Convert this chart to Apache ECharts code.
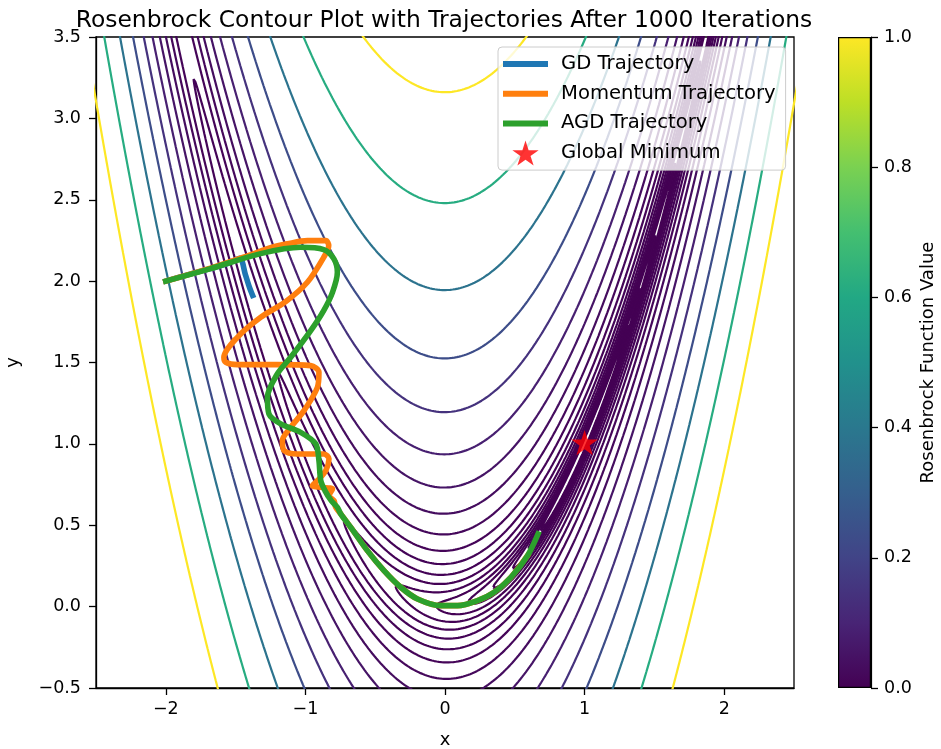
<!DOCTYPE html>
<html><head><meta charset="utf-8">
<script src="https://cdn.jsdelivr.net/npm/echarts@6/dist/echarts.min.js"></script>
<style>html,body{margin:0;padding:0;background:#fff}#c{width:941px;height:749px}</style>
</head><body><div id="c"></div>
<script>
// ---- data ----
const chartTitle = 'Rosenbrock Contour Plot with Trajectories After 1000 Iterations';
// contour levels of f(x,y) = (1-x)^2 + 100(y-x^2)^2 (log spaced 0.1 .. 1000)
const contourLevels = [0.1, 0.1624, 0.2637, 0.4281, 0.6952, 1.129, 1.833, 2.976, 4.833, 7.848,
                       12.74, 20.69, 33.60, 54.56, 88.59, 143.8, 233.6, 379.3, 615.8, 1000];
const xTickValues = [-2, -1, 0, 1, 2];
const gdX = [-2.0, -1.84, -1.68, -1.55, -1.47, -1.43, -1.40, -1.378];
const gdY = [2.0, 2.04, 2.077, 2.11, 2.14, 2.04, 1.96, 1.912];
const momentumX = [-2.0, -1.68, -1.40, -1.25, -1.129, -0.986, -0.854, -0.833, -0.869, -0.986, -1.14, -1.320, -1.487, -1.584, -1.571, -1.487, -1.201, -0.962, -0.903, -0.914, -1.010, -1.105, -1.165, -1.153, -1.057, -0.867, -0.831, -0.854, -0.914, -0.950, -0.890, -0.806, -0.831, -0.795, -0.783, -0.747, -0.675, -0.556, -0.437, -0.317, -0.197, -0.03, 0.09, 0.233, 0.352, 0.472, 0.591];
const momentumY = [2.0, 2.08, 2.16, 2.205, 2.229, 2.249, 2.249, 2.218, 2.146, 1.993, 1.875, 1.778, 1.655, 1.532, 1.501, 1.487, 1.487, 1.481, 1.440, 1.347, 1.204, 1.102, 1.020, 0.959, 0.938, 0.938, 0.908, 0.836, 0.774, 0.743, 0.733, 0.723, 0.682, 0.651, 0.610, 0.570, 0.487, 0.344, 0.221, 0.119, 0.047, 0.006, 0.006, 0.037, 0.088, 0.18, 0.313];
const agdX = [-2.0, -1.679, -1.32, -1.034, -0.869, -0.797, -0.771, -0.806, -0.869, -0.962, -1.105, -1.201, -1.272, -1.261, -1.177, -1.034, -0.926, -0.903, -0.890, -0.86, -0.815, -0.771, -0.747, -0.675, -0.556, -0.437, -0.317, -0.197, -0.03, 0.09, 0.233, 0.352, 0.472, 0.591, 0.667];
const agdY = [2.0, 2.077, 2.169, 2.208, 2.194, 2.138, 2.054, 1.931, 1.819, 1.696, 1.532, 1.430, 1.286, 1.184, 1.123, 1.071, 1.000, 0.897, 0.774, 0.713, 0.651, 0.610, 0.570, 0.487, 0.344, 0.221, 0.119, 0.047, 0.006, 0.006, 0.037, 0.088, 0.18, 0.313, 0.447];
const globalMinimum = [1, 1];
const colorbarMin = 0, colorbarMax = 1;

// ---- styling helpers ----
const FONT = 'DejaVu Sans';
const VIRIDIS = ['#440154','#482475','#414487','#355f8d','#2a788e','#21918c','#22a884','#44bf70','#7ad151','#bddf26','#fde725'];
function hex(h){return [parseInt(h.substr(1,2),16),parseInt(h.substr(3,2),16),parseInt(h.substr(5,2),16)];}
function viridis(v){
  v = Math.max(0, Math.min(1, v));
  const p = v * (VIRIDIS.length - 1), i = Math.min(Math.floor(p), VIRIDIS.length - 2), f = p - i;
  const a = hex(VIRIDIS[i]), b = hex(VIRIDIS[i+1]);
  return 'rgb(' + a.map((c,k)=>Math.round(c + (b[k]-c)*f)).join(',') + ')';
}
function starPath(R){
  const r = R * 0.381966; let d = '';
  for (let k = 0; k < 10; k++) {
    const ang = -Math.PI/2 + k*Math.PI/5, rr = k % 2 ? r : R;
    d += (k ? 'L' : 'M') + (R + rr*Math.cos(ang)).toFixed(3) + ',' + (R + rr*Math.sin(ang)).toFixed(3);
  }
  return 'path://' + d + 'Z';
}
const STAR = starPath(14);
const minus = s => String(s).replace('-', '\u2212');

// ---- contour line geometry for a level c: (1-x)=sqrt(c)cos t, 10(y-x^2)=sqrt(c) sin t ----
const XMIN=-2.5, XMAX=2.5, YMIN=-0.5, YMAX=3.5, PXX=139.6, PXY=162.75;
function contourSegments(c){
  const s = Math.sqrt(c), N = 200000;
  const segs = []; let cur = null, prev = null, firstStartsAt0 = false, lastEndsAtN = false;
  for (let i = 0; i <= N; i++) {
    const t = 2*Math.PI*i/N;
    const x = 1 - s*Math.cos(t);
    const y = x*x + s*Math.sin(t)/10;
    const inside = x >= XMIN-0.15 && x <= XMAX+0.15 && y >= YMIN-0.15 && y <= YMAX+0.15;
    if (inside) {
      if (!cur) { cur = []; if (prev) cur.push(prev); else firstStartsAt0 = true; cur.push([x,y]); }
      else {
        const l = cur[cur.length-1];
        if (Math.hypot((x-l[0])*PXX, (y-l[1])*PXY) >= 0.8 || i === N) cur.push([x,y]);
      }
      if (i === N) lastEndsAtN = true;
    } else if (cur) { cur.push([x,y]); segs.push(cur); cur = null; }
    prev = [x,y];
  }
  if (cur) segs.push(cur);
  if (segs.length > 1 && firstStartsAt0 && lastEndsAtN) {
    const last = segs.pop(); segs[0] = last.concat(segs[0]);
  }
  return segs;
}

const series = [];
contourLevels.forEach((c) => {
  const col = viridis((c - contourLevels[0]) / (contourLevels[contourLevels.length-1] - contourLevels[0]));
  contourSegments(c).forEach(seg => {
    series.push({type:'line', data: seg, showSymbol:false, symbol:'none', silent:true, animation:false,
      clip:true, z:1, lineStyle:{color: col, width: 2.2}, xAxisIndex:0, yAxisIndex:0});
  });
});
const zipXY = (xs, ys) => xs.map((x,i)=>[x, ys[i]]);
function traj(name, xs, ys, color, z){
  return {name, type:'line', data: zipXY(xs, ys), showSymbol:false, symbol:'none', smooth:0.3, animation:false,
    clip:true, z, color, itemStyle:{color}, lineStyle:{color, width:5.6, cap:'square', join:'round'}};
}
series.push(traj('GD Trajectory', gdX, gdY, '#1f77b4', 3));
series.push(traj('Momentum Trajectory', momentumX, momentumY, '#ff7f0e', 4));
series.push(traj('AGD Trajectory', agdX, agdY, '#2ca02c', 5));
series.push({name:'Global Minimum', type:'scatter', data:[globalMinimum], symbol: STAR, symbolSize:[26.6,25.3],
  symbolOffset:[0,-1.3], z:6, color:'#ff0000', itemStyle:{color:'#ff0000'}, animation:false});
// colorbar
const cbStops = VIRIDIS.map((c,i)=>({offset: i/(VIRIDIS.length-1), color: c}));
series.push({type:'bar', xAxisIndex:1, yAxisIndex:1, data:[colorbarMax], barWidth:'100%', silent:true, animation:false,
  itemStyle:{color: new echarts.graphic.LinearGradient(0,1,0,0,cbStops), borderColor:'#000', borderWidth:1.2}});

const axisText = {color:'#000', fontFamily:FONT, fontSize:17.5};
const option = {
  backgroundColor:'#fff',
  animation:false,
  title:{text: chartTitle, left: 439, top: 4, textAlign:'center',
    textStyle:{fontFamily:FONT, fontSize:23.4, fontWeight:'normal', color:'#000'}},
  grid:[
    {left:96, top:37, width:698, height:651, show:true, borderColor:'#000', borderWidth:1.3, backgroundColor:'transparent',
     containLabel:false, outerBoundsMode:'none'},
    {left:838, top:37, width:33, height:651, show:false, containLabel:false, outerBoundsMode:'none'}
  ],
  xAxis:[
    {type:'value', gridIndex:0, min:XMIN, max:XMAX, name:'x', nameLocation:'middle', nameGap:43,
     nameTextStyle:{...axisText, fontSize:18},
     axisLine:{show:true, onZero:false, lineStyle:{color:'#000', width:1.3}},
     axisTick:{show:true, inside:false, length:7, lineStyle:{color:'#000', width:1.3}, customValues:xTickValues},
     axisLabel:{...axisText, margin:12, customValues:xTickValues, formatter: v => minus(v)},
     splitLine:{show:false}},
    {type:'category', gridIndex:1, data:['cb'], show:false, boundaryGap:true}
  ],
  yAxis:[
    {type:'value', gridIndex:0, min:YMIN, max:YMAX, interval:0.5, name:'y', nameLocation:'middle', nameGap:74,
     nameTextStyle:{...axisText, fontSize:18},
     axisLine:{show:true, onZero:false, lineStyle:{color:'#000', width:1.3}},
     axisTick:{show:true, inside:false, length:7, lineStyle:{color:'#000', width:1.3}},
     axisLabel:{...axisText, margin:15, formatter: v => minus(v.toFixed(1))},
     splitLine:{show:false}},
    {type:'value', gridIndex:1, min:colorbarMin, max:colorbarMax, interval:0.2, position:'right',
     name:'Rosenbrock Function Value', nameLocation:'middle', nameGap:48, nameTextStyle:{...axisText, fontSize:18},
     axisLine:{show:true, onZero:false, lineStyle:{color:'#000', width:1.2}},
     axisTick:{show:true, inside:false, length:7, lineStyle:{color:'#000', width:1.3}},
     axisLabel:{...axisText, margin:13, formatter: v => v.toFixed(1)},
     splitLine:{show:false}}
  ],
  legend:{
    orient:'vertical', left:498, top:47, padding:[4.5,10,4.5,5],
    itemWidth:45, itemHeight:25, itemGap:4.7, selectedMode:false,
    backgroundColor:'rgba(255,255,255,0.8)', borderColor:'#cccccc', borderWidth:1, borderRadius:4,
    textStyle:{fontFamily:FONT, fontSize:19.6, lineHeight:25, color:'#000', padding:[0,0,0,8]},
    data:[
      {name:'GD Trajectory', icon:'path://M0,0H45V6H0Z'},
      {name:'Momentum Trajectory', icon:'path://M0,0H45V6H0Z'},
      {name:'AGD Trajectory', icon:'path://M0,0H45V6H0Z'},
      {name:'Global Minimum', icon: STAR}
    ]
  },
  series
};
const chart = echarts.init(document.getElementById('c'), null, {renderer:'canvas'});
chart.setOption(option);
</script>
</body></html>
